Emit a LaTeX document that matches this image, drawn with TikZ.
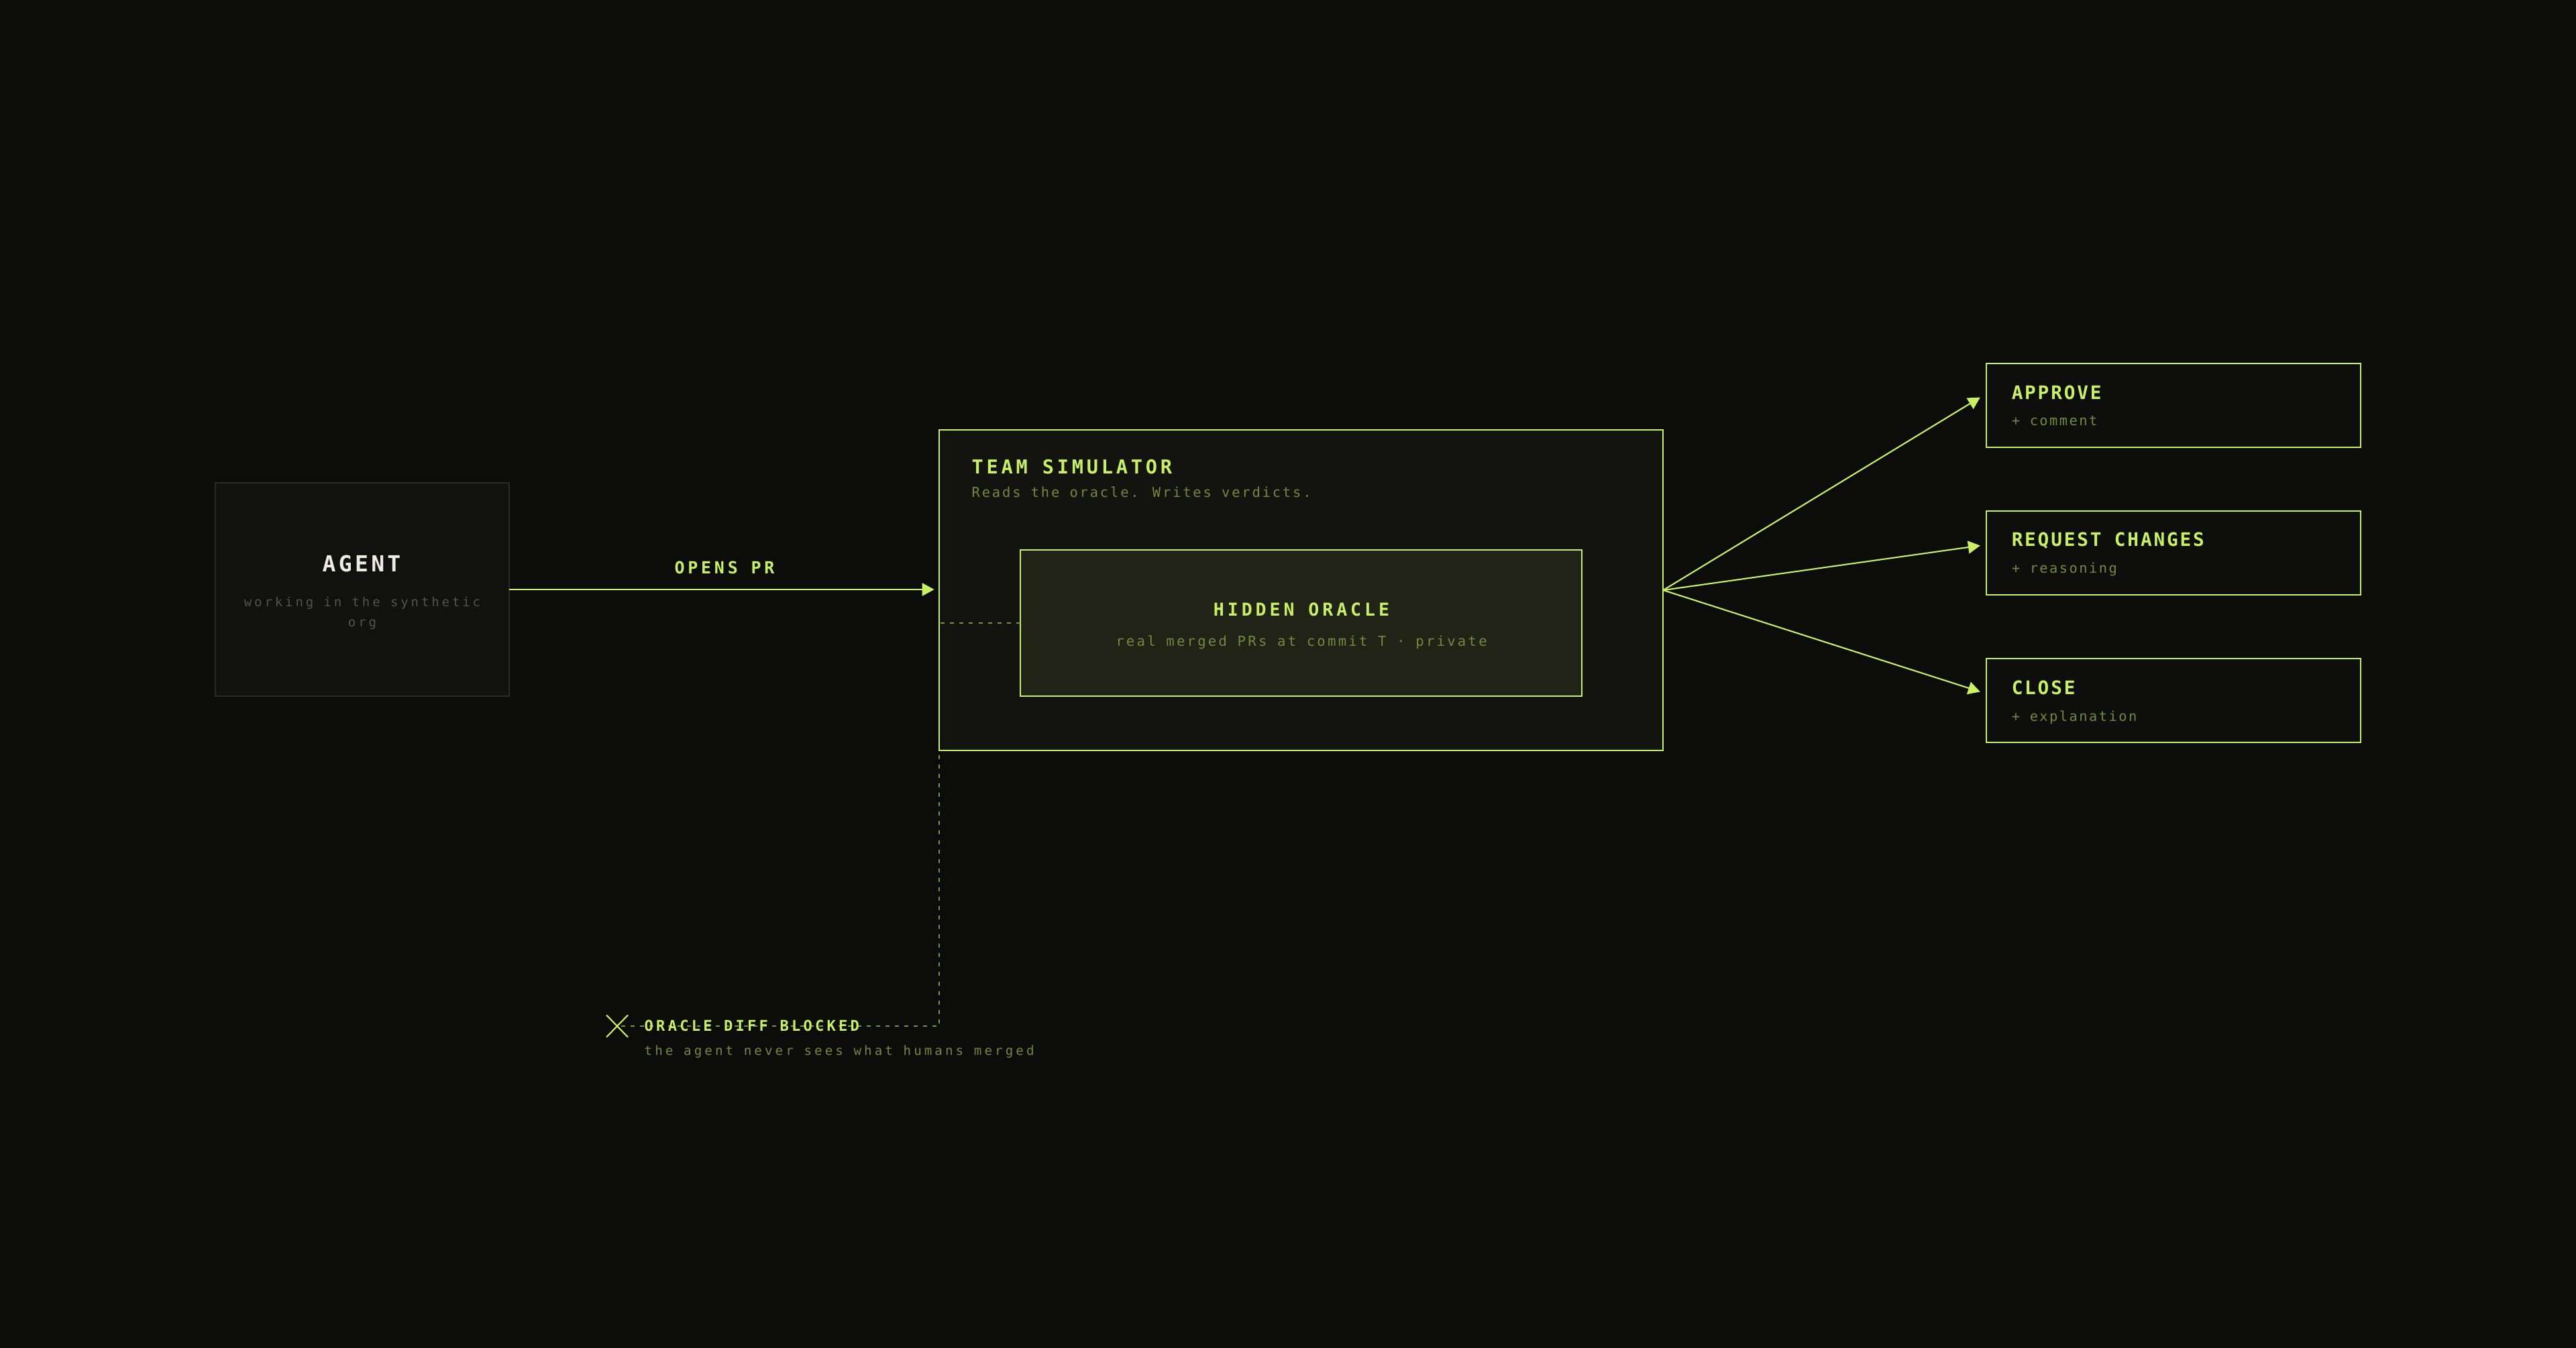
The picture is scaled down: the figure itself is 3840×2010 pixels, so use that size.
\documentclass[tikz,border=0pt]{standalone}
\usepackage{fontspec}
\newfontfamily\mono{DejaVu Sans Mono}
\usetikzlibrary{arrows.meta,calc}
\definecolor{bg}{RGB}{12,12,11}
\definecolor{lime}{RGB}{200,240,100}
\definecolor{olive}{RGB}{112,138,62}
\definecolor{dashcol}{RGB}{120,146,66}
\definecolor{agentfill}{RGB}{17,17,16}
\definecolor{agentline}{RGB}{42,42,40}
\definecolor{agenttext}{RGB}{82,82,78}
\definecolor{agenttitle}{RGB}{236,236,228}
\definecolor{teamfill}{RGB}{19,20,15}
\definecolor{oraclefill}{RGB}{33,35,23}
\definecolor{verdictfill}{RGB}{14,15,12}
\newcommand{\fnt}[3]{\mono#1\fontsize{#2}{#2}\selectfont\addfontfeatures{LetterSpace=#3}}
\begin{document}
\begin{tikzpicture}[x=0.01cm,y=-0.01cm,
  box/.style={draw=lime, line width=0.6pt, inner sep=0pt, outer sep=0pt},
  vbox/.style={box, fill=verdictfill, minimum width=5.58cm, minimum height=1.25cm},
  arr/.style={draw=lime, line width=0.6pt, -{Triangle[length=5.1pt,width=5.4pt]}},
  dashline/.style={draw=dashcol, line width=0.5pt, dash pattern=on 1.7pt off 2.3pt},
  vtitle/.style={text=lime, inner sep=0pt, anchor=base west, font=\fnt{\bfseries}{7.9}{10}},
  vsub/.style={text=olive, inner sep=0pt, anchor=base west, font=\fnt{}{5.8}{12}},
]
\fill[bg] (0,0) rectangle (3840,2010);
\useasboundingbox (0,0) rectangle (3840,2010);

% X mark position
\coordinate (xmark) at (920,1530);

% vertical/outer part of the dashed connector (behind the boxes)
\coordinate (tcorner) at (1400,929);
\draw[dashline] (tcorner) -- (tcorner |- xmark) -- ($(xmark)+(5,0)$);

% boxes
\node[box, draw=agentline, fill=agentfill, minimum width=4.38cm, minimum height=3.18cm] (agent) at (540,879) {};
\node[box, fill=teamfill, minimum width=10.79cm, minimum height=4.78cm] (team) at (1939.5,880) {};
\node[box, fill=oraclefill, minimum width=8.37cm, minimum height=2.18cm] (oracle) at (1939.5,929) {};
\node[vbox] (approve) at (3240,604.5) {};
\node[vbox] (request) at (3240,824.5) {};
\node[vbox] (close) at (3240,1044.5) {};

% inner dashed part
\draw[dashline] (oracle.west) -- (oracle.west -| team.west);

% agent texts
\node[text=agenttitle, inner sep=0pt, anchor=base, font=\fnt{\bfseries}{9.4}{13}] (agentT) at (539,853) {AGENT};
\node[text=agenttext, inner sep=0pt, anchor=base, font=\fnt{}{5.4}{20.5}] (agentS1) at (540,904) {working in the synthetic};
\node[text=agenttext, inner sep=0pt, anchor=base, font=\fnt{}{5.4}{20.5}] (agentS2) at (540,935) {org};

% opens PR
\draw[arr, shorten >=2pt] (agent.east) -- (agent.east -| team.west);
\node[text=lime, inner sep=0pt, anchor=base, font=\fnt{\bfseries}{7.1}{19}] (opens) at (1080,856) {OPENS PR};

% team texts
\node[text=lime, inner sep=0pt, anchor=base west, font=\fnt{\bfseries}{8.15}{16.5}] (teamT) at (1448,707) {TEAM SIMULATOR};
\node[text=olive, inner sep=0pt, anchor=base west, font=\fnt{}{5.82}{13.8}] (teamS) at (1448,742) {Reads the oracle. Writes verdicts.};

% oracle texts
\node[text=lime, inner sep=0pt, anchor=base, font=\fnt{\bfseries}{7.55}{18.6}] (oracleT) at (1940,919) {HIDDEN ORACLE};
\node[text=olive, inner sep=0pt, anchor=base, font=\fnt{}{5.86}{15.8}] (oracleS) at (1940,963) {real merged PRs at commit T · private};

% verdict texts
\node[vtitle] (approveT) at (2998,596) {APPROVE};
\node[vsub] (approveS) at (2998,635) {+ comment};
\node[vtitle] (requestT) at (2998,815) {REQUEST CHANGES};
\node[vsub] (requestS) at (2998,855) {+ reasoning};
\node[vtitle] (closeT) at (2998,1035) {CLOSE};
\node[vsub] (closeS) at (2998,1075) {+ explanation};

% verdict arrows
\draw[arr] (team.east) -- ($(approve.west)+(-9,-12)$);
\draw[arr] (team.east) -- ($(request.west)+(-9,-11)$);
\draw[arr] (team.east) -- ($(close.west)+(-9,-13)$);

% blocked marker
\draw[draw=lime, line width=0.6pt] ($(xmark)+(-16,-16.5)$) -- ($(xmark)+(16,16.5)$)
  ($(xmark)+(-16,16.5)$) -- ($(xmark)+(16,-16.5)$);
\node[text=lime, inner sep=0pt, anchor=base west, font=\fnt{\bfseries}{6.29}{19}] (blockedT) at (960,1537) {ORACLE DIFF BLOCKED};
\node[text=olive, inner sep=0pt, anchor=base west, font=\fnt{}{5.47}{21}] (blockedS) at (960,1573) {the agent never sees what humans merged};
\end{tikzpicture}
\end{document}
